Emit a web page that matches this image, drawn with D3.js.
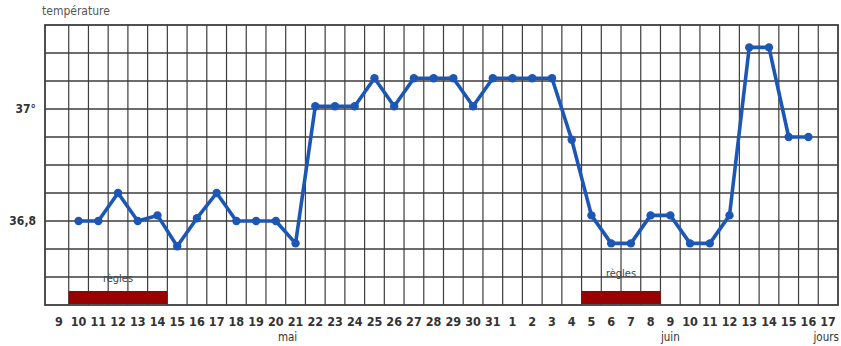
<!DOCTYPE html>
<html><head><meta charset="utf-8">
<script src="https://cdn.jsdelivr.net/npm/d3@7"></script>
<style>body{margin:0;background:#fff;}svg{display:block;}</style>
</head><body>
<svg id="c" width="841" height="346"></svg>
<script>
// ---- data ----
const dayLabels = ["9","10","11","12","13","14","15","16","17","18","19","20","21","22","23","24","25","26","27","28","29","30","31",
                   "1","2","3","4","5","6","7","8","9","10","11","12","13","14","15","16","17"];
const temps = [null,36.80,36.80,36.85,36.80,36.81,36.755,36.805,36.85,36.80,36.80,36.80,36.76,
               37.005,37.005,37.005,37.055,37.005,37.055,37.055,37.055,37.005,37.055,
               37.055,37.055,37.055,36.945,36.81,36.76,36.76,36.81,36.81,36.76,36.76,36.81,37.11,37.11,36.95,36.95,null];
const yTicks = [36.8, 37.0];
const yTickLabels = ["36,8","37°"];
const gridTemps = [36.70,36.75,36.80,36.85,36.90,36.95,37.00,37.05,37.10];
const periodStart = [1, 27];   // index into dayLabels: 10 mai, 5 juin
const periodEnd = [5, 30];     // 14 mai, 8 juin
const periodLabel = ["règles","règles"];
const monthNames = ["mai","juin"];
const monthLabelIndex = [12, 31];

// ---- layout ----
const svg = d3.select("#c");
const L = 45, R = 838, T = 25, B = 305;
const x = d3.scaleBand().domain(d3.range(dayLabels.length)).range([49, 838]).paddingInner(0).paddingOuter(0);
const y = d3.scaleLinear().domain([36.65, 37.15]).range([B, T]);
const gridCol = "#3d3d3d";
const font = "'DejaVu Sans Condensed', 'Liberation Sans Narrow', sans-serif";

// grid
const g = svg.append("g");
g.selectAll("line.v").data(d3.range(1, dayLabels.length)).join("line")
  .attr("x1", d=>x(d)).attr("x2", d=>x(d)).attr("y1", T).attr("y2", B)
  .attr("stroke", gridCol).attr("stroke-width", 1.2);
g.selectAll("line.h").data(gridTemps).join("line")
  .attr("x1", L).attr("x2", R).attr("y1", d=>y(d)).attr("y2", d=>y(d))
  .attr("stroke", gridCol).attr("stroke-width", 1.3);
g.append("rect").attr("x", L).attr("y", T).attr("width", R-L).attr("height", B-T)
  .attr("fill","none").attr("stroke", gridCol).attr("stroke-width", 1.8);

// periods
const bw = x.bandwidth();
svg.selectAll("rect.p").data(periodStart).join("rect")
  .attr("x", (d)=>x(d)).attr("width", (d,i)=>x(periodEnd[i]) + bw - x(d))
  .attr("y", y(36.675)).attr("height", B - y(36.675) - 1)
  .attr("fill", "#990000");
svg.selectAll("text.p").data(periodStart).join("text")
  .attr("x", (d,i)=>(x(d)+x(periodEnd[i])+bw)/2).attr("y", (d,i)=> i===0 ? 282 : 277)
  .attr("text-anchor","middle").attr("font-family",font)
  .attr("font-size", 11).attr("fill","#444").text((d,i)=>periodLabel[i]);

// line
const pts = temps.map((t,i)=>({i,t})).filter(d=>d.t!==null);
const line = d3.line().x(d=>x(d.i)+bw/2).y(d=>y(d.t));
svg.append("path").datum(pts).attr("d", line).attr("fill","none")
  .attr("stroke","#1d57b5").attr("stroke-width",3.6).attr("stroke-linejoin","round").attr("stroke-linecap","round");
svg.selectAll("circle").data(pts).join("circle")
  .attr("cx", d=>x(d.i)+bw/2).attr("cy", d=>y(d.t)).attr("r", 4.2).attr("fill","#1d57b5");

// x labels
svg.selectAll("text.x").data(dayLabels).join("text")
  .attr("x", (d,i)=>x(i)+bw/2).attr("y", 326).attr("text-anchor","middle")
  .attr("font-family", font).attr("font-size", 12.5).attr("fill","#333").attr("font-weight","bold").text(d=>d);
svg.selectAll("text.m").data(monthNames).join("text")
  .attr("x", (d,i)=>x(monthLabelIndex[i])+bw/2 - (i===0 ? 8 : 0)).attr("y", 341).attr("text-anchor","middle")
  .attr("font-family", font).attr("font-size", 11.5).attr("fill","#333").text(d=>d);
svg.append("text").attr("x", x(dayLabels.length-1)+bw/2 - 2).attr("y", 341).attr("text-anchor","middle")
  .attr("font-family", font).attr("font-size", 11.5).attr("fill","#333").text("jours");

// y labels
svg.selectAll("text.y").data(yTicks).join("text")
  .attr("x", 36).attr("y", d=>y(d)+4).attr("text-anchor","end")
  .attr("font-family", font).attr("font-size", 12).attr("fill","#333").attr("font-weight","bold")
  .text((d,i)=>yTickLabels[i]);

// title
svg.append("text").attr("x", 42).attr("y", 15).attr("font-family", font).attr("font-size", 12)
  .attr("fill","#555").text("température");
</script>
</body></html>
